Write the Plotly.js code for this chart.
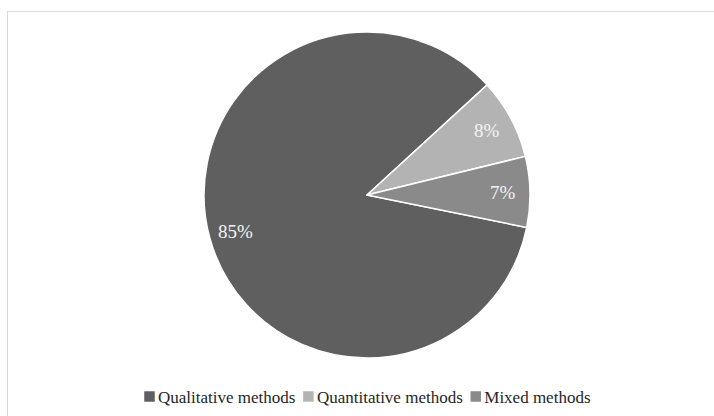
<!DOCTYPE html>
<html>
<head>
<meta charset="utf-8">
<script src="https://cdn.plot.ly/plotly-3.0.1.min.js"></script>
<style>
  html, body { margin: 0; padding: 0; background: #ffffff; overflow: hidden; }
  #frame { position: absolute; left: 7px; top: 11px; width: 800px; height: 500px;
           border: 1px solid #d9d9d9; box-sizing: border-box; }
  #chart { position: absolute; left: 0; top: 0; width: 714px; height: 416px; }
</style>
</head>
<body>
<div id="frame"></div>
<div id="chart"></div>
<script>
// Research approaches, share of studies (%)
const methods = ['Qualitative methods', 'Quantitative methods', 'Mixed methods'];
const shares = [85, 8, 7];
const sliceColors = ['#5f5f5f', '#b3b3b3', '#8a8a8a'];

const W = 714, H = 416;
const cx = 367, cy = 195, r = 163;
const startAngle = 101.5;          // where the first slice begins, degrees clockwise from 12 o'clock
const labelRadius = 0.835;         // value labels sit near the rim, as a fraction of the radius
const serif = 'Liberation Serif, Times New Roman, serif';

const trace = {
  type: 'pie',
  labels: methods,
  values: shares,
  sort: false,
  direction: 'clockwise',
  rotation: startAngle,
  marker: { colors: sliceColors, line: { color: '#ffffff', width: 1.5 } },
  textinfo: 'none',
  hoverinfo: 'label+percent',
  domain: {
    x: [(cx - r) / W, (cx + r) / W],
    y: [(H - cy - r) / H, (H - cy + r) / H]
  }
};

// Value labels placed at each slice's mid-angle, derived from the shares
const total = shares.reduce((a, b) => a + b, 0);
let cum = 0;
const annotations = shares.map(v => {
  const mid = startAngle + (cum + v / 2) / total * 360;
  cum += v;
  const th = mid * Math.PI / 180;
  const px = cx + labelRadius * r * Math.sin(th);
  const py = (H - cy) + labelRadius * r * Math.cos(th);
  return {
    x: px / W, y: py / H, xref: 'paper', yref: 'paper',
    xanchor: 'center', yanchor: 'middle', showarrow: false,
    text: v + '%',
    font: { family: serif, size: 19, color: '#f4f4f4' }
  };
});

const layout = {
  width: W, height: H,
  margin: { l: 0, r: 0, t: 0, b: 0 },
  paper_bgcolor: 'rgba(0,0,0,0)',
  showlegend: true,
  annotations: annotations,
  legend: {
    orientation: 'h',
    x: 0.52, xanchor: 'center',
    y: 19 / H, yanchor: 'middle',
    font: { family: serif, size: 17, color: '#262626' },
    itemwidth: 30,
    traceorder: 'normal'
  }
};

// Compact legend: swatch close to its text, items packed in a row
function tightenLegend(gd) {
  const items = Array.from(gd.querySelectorAll('.legend g.traces'));
  const host = gd.getBoundingClientRect();
  let nextCenter = 149.5;
  items.forEach(item => {
    const sym = item.querySelector('.legendpoints path');
    const txt = item.querySelector('text.legendtext');
    if (!sym || !txt) return;
    const m = /translate\(\s*([-\d.]+)[ ,]+([-\d.]+)\s*\)/.exec(item.getAttribute('transform') || '');
    const tx = m ? parseFloat(m[1]) : 0, ty = m ? parseFloat(m[2]) : 0;
    const s = sym.getBoundingClientRect();
    const symCenter = (s.left + s.right) / 2 - host.left;
    const t0 = txt.getBoundingClientRect();
    const shiftText = (symCenter + 8.5) - (t0.left - host.left);
    txt.setAttribute('x', (parseFloat(txt.getAttribute('x') || 0) + shiftText).toString());
    const dx = nextCenter - symCenter;
    item.setAttribute('transform', 'translate(' + (tx + dx) + ',' + ty + ')');
    const t1 = txt.getBoundingClientRect();
    nextCenter = (t1.right - host.left) + 13;
  });
}

Plotly.newPlot('chart', [trace], layout, { displayModeBar: false, staticPlot: true })
  .then(gd => tightenLegend(gd));
</script>
</body>
</html>
